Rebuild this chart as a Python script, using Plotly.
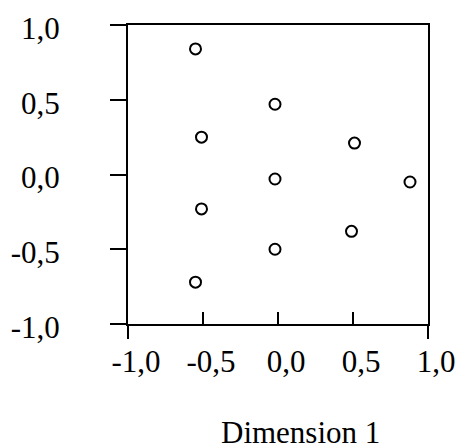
import plotly.graph_objects as go

# Data
dim1 = [-0.55, -0.02, -0.51, 0.51, -0.02, 0.88, -0.51, 0.49, -0.02, -0.55]
dim2 = [0.84, 0.47, 0.25, 0.21, -0.03, -0.05, -0.23, -0.38, -0.50, -0.72]

tick_vals = [-1.0, -0.5, 0.0, 0.5, 1.0]
tick_text = ["-1,0", "-0,5", "0,0", "0,5", "1,0"]
edge_vals = [-1.0, 1.0]
x_title = "Dimension 1"

FONT = "Liberation Serif, Times New Roman, serif"
FS = 31

fig = go.Figure()
fig.add_trace(go.Scatter(
    x=dim1, y=dim2, mode="markers",
    marker=dict(symbol="circle-open", size=11, color="black",
                line=dict(width=2, color="black")),
    showlegend=False, hoverinfo="skip",
))
# empty trace so the overlay axis (long edge ticks) is drawn
fig.add_trace(go.Scatter(x=[], y=[], xaxis="x2", showlegend=False))

fig.update_layout(
    width=458, height=447,
    margin=dict(l=128, r=30, t=25, b=123, pad=0, autoexpand=False),
    paper_bgcolor="white", plot_bgcolor="white",
    font=dict(family=FONT, size=FS, color="black"),
    xaxis=dict(
        range=[-1, 1], tickvals=tick_vals, ticktext=tick_text,
        ticks="inside", ticklen=12, tickwidth=2, tickcolor="black",
        showline=True, linewidth=2, linecolor="black", mirror=True,
        showgrid=False, zeroline=False, automargin=False,
        tickfont=dict(family=FONT, size=FS, color="black"),
        ticklabelshift=8, ticklabelstandoff=9, ticklabeloverflow="allow",
    ),
    xaxis2=dict(
        range=[-1, 1], overlaying="x", side="bottom",
        tickvals=edge_vals, showticklabels=False, automargin=False,
        ticks="outside", ticklen=14, tickwidth=2, tickcolor="black",
        showline=False, showgrid=False, zeroline=False,
    ),
    yaxis=dict(
        range=[-1, 1], tickvals=tick_vals, ticktext=tick_text,
        ticks="outside", ticklen=16, tickwidth=2, tickcolor="black",
        showline=True, linewidth=2, linecolor="black", mirror=True,
        showgrid=False, zeroline=False, automargin=False,
        tickfont=dict(family=FONT, size=FS, color="black"),
        ticklabelstandoff=44, ticklabelshift=3, ticklabeloverflow="allow",
    ),
    annotations=[dict(
        text=x_title, xref="paper", yref="paper",
        x=0.575, y=-0.362, xanchor="center", yanchor="middle",
        showarrow=False, font=dict(family=FONT, size=FS, color="black"),
    )],
)

fig.write_html(
    "out.html",
    config={"displayModeBar": False},
    post_script="document.body.style.margin='0';document.body.style.overflow='hidden';",
)
